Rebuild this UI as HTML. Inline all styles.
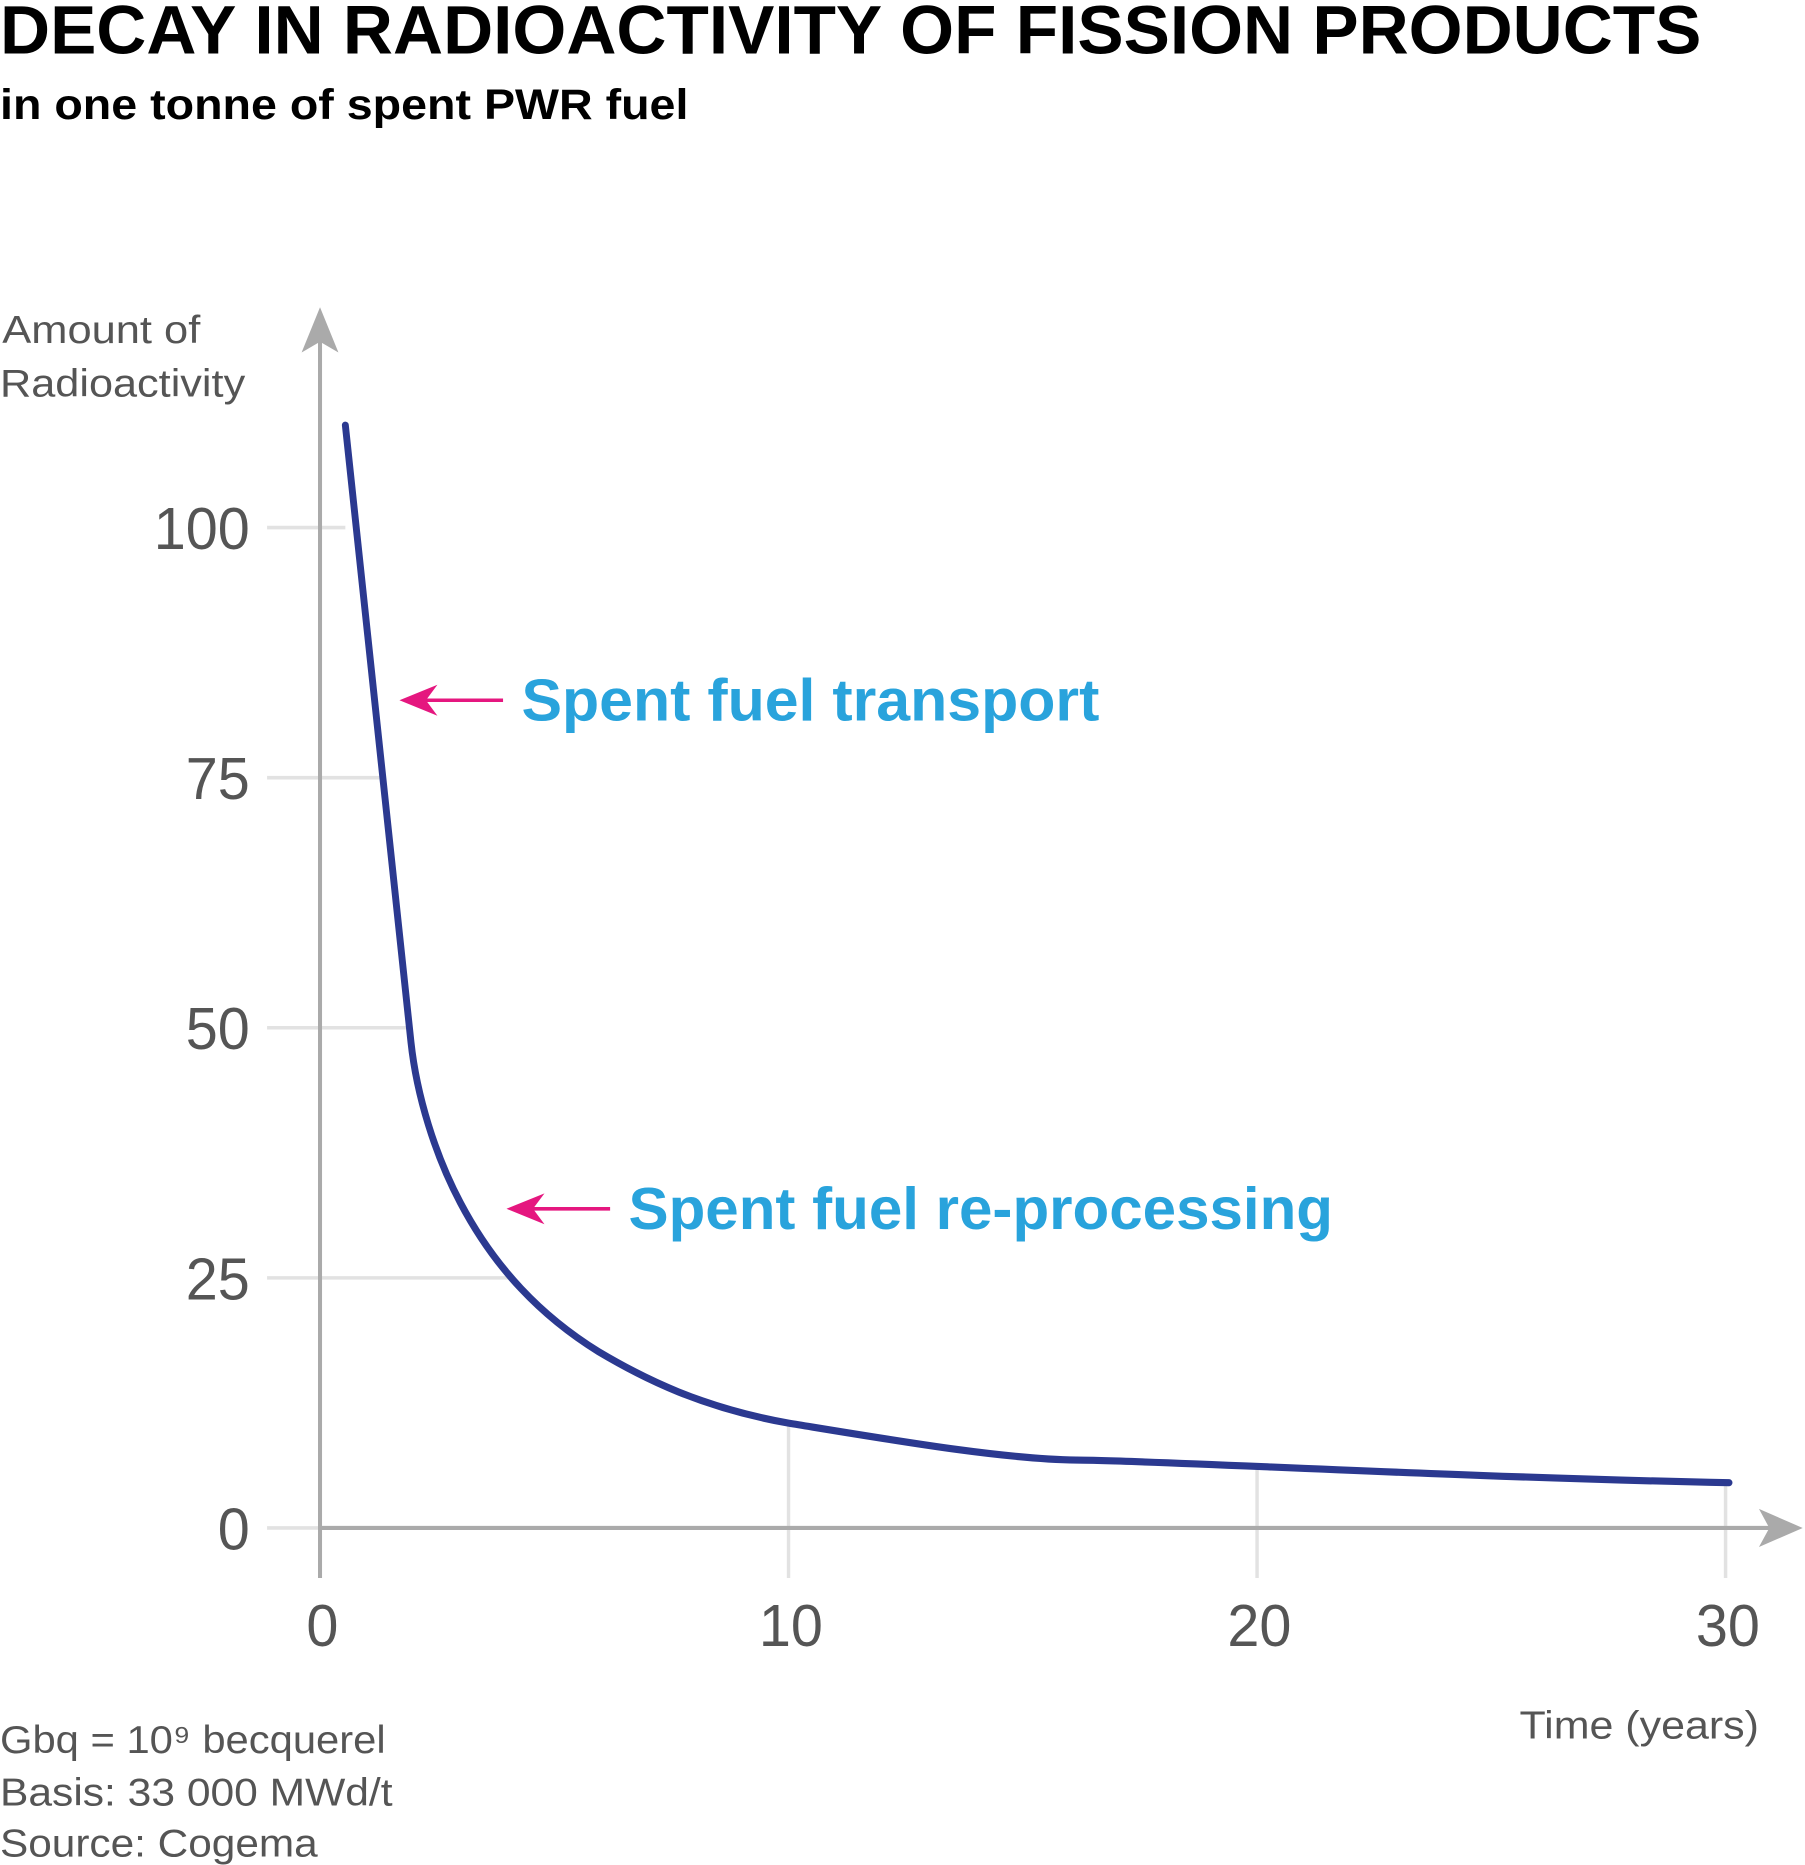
<!DOCTYPE html>
<html><head><style>html,body{margin:0;padding:0;background:#fff}svg{display:block}</style></head>
<body>
<svg width="1805" height="1865" viewBox="0 0 1568 1566" preserveAspectRatio="none" xmlns="http://www.w3.org/2000/svg" font-family="Liberation Sans, sans-serif">
<text x="0" y="45" font-size="58" font-weight="bold" fill="#000" textLength="1478" lengthAdjust="spacingAndGlyphs">DECAY IN RADIOACTIVITY OF FISSION PRODUCTS</text>
<text x="0" y="100" font-size="36" font-weight="bold" fill="#000" textLength="598" lengthAdjust="spacingAndGlyphs">in one tonne of spent PWR fuel</text>
<g fill="#555" font-size="33">
<text x="2" y="288" textLength="172" lengthAdjust="spacingAndGlyphs">Amount of</text>
<text x="0" y="333" textLength="213" lengthAdjust="spacingAndGlyphs">Radioactivity</text>
<text x="1528" y="1460" text-anchor="end" textLength="208" lengthAdjust="spacingAndGlyphs">Time (years)</text>
<text x="0" y="1472" textLength="335" lengthAdjust="spacingAndGlyphs">Gbq = 10⁹ becquerel</text>
<text x="0" y="1516" textLength="341" lengthAdjust="spacingAndGlyphs">Basis: 33 000 MWd/t</text>
<text x="0" y="1559" textLength="276" lengthAdjust="spacingAndGlyphs">Source: Cogema</text>
</g>
<g stroke="#e2e2e2" stroke-width="3">
<line x1="232" y1="443" x2="300" y2="443"/>
<line x1="232" y1="653" x2="332" y2="653"/>
<line x1="232" y1="863" x2="357" y2="863"/>
<line x1="232" y1="1073" x2="445" y2="1073"/>
<line x1="685" y1="1195" x2="685" y2="1325"/>
<line x1="1092" y1="1230" x2="1092" y2="1325"/>
<line x1="1499" y1="1245" x2="1499" y2="1325"/>
<line x1="232" y1="1283" x2="278" y2="1283"/>
</g>
<g stroke="#aaa" stroke-width="3.5" fill="#aaa">
<line x1="278" y1="285" x2="278" y2="1325"/>
<line x1="278" y1="1283" x2="1540" y2="1283"/>
<polygon points="278,258 262,296 278,287 294,296" stroke="none"/>
<polygon points="1566,1283 1528,1267 1537,1283 1528,1299" stroke="none"/>
</g>
<g fill="#555" font-size="50" text-anchor="end">
<text x="217" y="461">100</text>
<text x="217" y="671">75</text>
<text x="217" y="881">50</text>
<text x="217" y="1091">25</text>
<text x="217" y="1301">0</text>
</g>
<g fill="#555" font-size="50" text-anchor="middle">
<text x="280" y="1382">0</text>
<text x="687" y="1382">10</text>
<text x="1094" y="1382">20</text>
<text x="1501" y="1382">30</text>
</g>
<path d="M300,357 L357,875 C362,920 378,970 400,1010 C430,1065 470,1105 520,1135 C560,1158 610,1182 685,1195 C780,1210 870,1225 935,1226 C1000,1226 1250,1240 1502,1245" fill="none" stroke="#2b3990" stroke-width="6" stroke-linecap="round" stroke-linejoin="round"/>
<g stroke="#e5177f" stroke-width="3" fill="#e5177f">
<line x1="437" y1="588" x2="360" y2="588"/>
<polygon points="347,588 380,575 370,588 380,601" stroke="none"/>
<line x1="530" y1="1015" x2="453" y2="1015"/>
<polygon points="440,1015 473,1002 463,1015 473,1028" stroke="none"/>
</g>
<g fill="#29a3dc" font-size="50" font-weight="bold">
<text x="453" y="605" textLength="502" lengthAdjust="spacingAndGlyphs">Spent fuel transport</text>
<text x="546" y="1032" textLength="612" lengthAdjust="spacingAndGlyphs">Spent fuel re-processing</text>
</g>
</svg>
</body></html>
